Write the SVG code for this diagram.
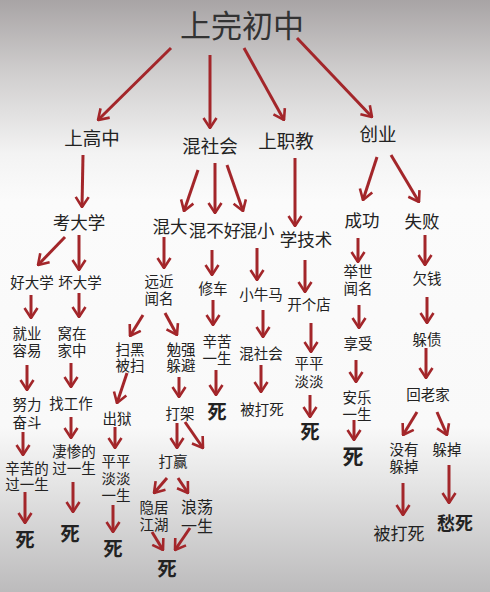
<svg xmlns="http://www.w3.org/2000/svg" width="490" height="592" viewBox="0 0 490 592">
<defs>
<linearGradient id="bg" x1="0" y1="0" x2="0" y2="1">
<stop offset="0" stop-color="#a8a4a5"/>
<stop offset="0.12" stop-color="#cfcdcd"/>
<stop offset="0.26" stop-color="#f3f3f3"/>
<stop offset="0.34" stop-color="#fbfbfb"/>
<stop offset="0.72" stop-color="#f9f9f9"/>
<stop offset="0.82" stop-color="#e4e4e4"/>
<stop offset="1" stop-color="#bcbbbc"/>
</linearGradient>
<marker id="ah" viewBox="0 0 12 16" refX="11" refY="8" markerWidth="12" markerHeight="16" markerUnits="userSpaceOnUse" orient="auto">
<path d="M1,1.5 L11,8 L1,14.5" fill="none" stroke="#a3262a" stroke-width="2.6" stroke-linejoin="miter"/>
</marker>
<style>
text{font-family:"Noto Sans CJK SC","Noto Sans CJK JP",sans-serif;fill:#222;text-anchor:middle;dominant-baseline:central}
.t{font-size:31px;fill:#333}
.l1{font-size:18.5px}
.l2{font-size:17.5px}
.s{font-size:14.5px}
.d{font-size:19.5px;font-weight:bold}
.c line{stroke:#a3262a;stroke-width:3;marker-end:url(#ah)}
</style>
</defs>
<rect width="490" height="592" fill="url(#bg)"/>
<g class="c" id="connectors">
<line x1="171" y1="48" x2="98" y2="120"/>
<line x1="210" y1="55" x2="210" y2="128"/>
<line x1="244" y1="48" x2="284" y2="120"/>
<line x1="297" y1="38" x2="372" y2="117"/>
<line x1="83" y1="155" x2="82" y2="207"/>
<line x1="198" y1="170" x2="184" y2="211"/>
<line x1="215" y1="163" x2="215" y2="213"/>
<line x1="227" y1="165" x2="243" y2="211"/>
<line x1="295" y1="158" x2="295" y2="226"/>
<line x1="377" y1="157" x2="363" y2="200"/>
<line x1="391" y1="155" x2="419" y2="202"/>
<line x1="65" y1="237" x2="38" y2="265"/>
<line x1="79" y1="235" x2="79" y2="270"/>
<line x1="164" y1="237" x2="164" y2="268"/>
<line x1="212" y1="250" x2="212" y2="275"/>
<line x1="257" y1="248" x2="257" y2="280"/>
<line x1="305" y1="260" x2="305" y2="292"/>
<line x1="358" y1="238" x2="358" y2="262"/>
<line x1="425" y1="235" x2="425" y2="265"/>
<line x1="31" y1="295" x2="31" y2="318"/>
<line x1="79" y1="293" x2="79" y2="317"/>
<line x1="143" y1="315" x2="130" y2="336"/>
<line x1="165" y1="313" x2="177" y2="335"/>
<line x1="213" y1="300" x2="213" y2="325"/>
<line x1="263" y1="310" x2="263" y2="337"/>
<line x1="311" y1="323" x2="311" y2="352"/>
<line x1="359" y1="305" x2="359" y2="328"/>
<line x1="427" y1="297" x2="427" y2="323"/>
<line x1="27" y1="365" x2="27" y2="390"/>
<line x1="71" y1="363" x2="71" y2="387"/>
<line x1="127" y1="373" x2="117" y2="403"/>
<line x1="179" y1="377" x2="179" y2="397"/>
<line x1="216" y1="370" x2="216" y2="395"/>
<line x1="261" y1="365" x2="261" y2="392"/>
<line x1="310" y1="395" x2="310" y2="417"/>
<line x1="356" y1="360" x2="356" y2="382"/>
<line x1="426" y1="348" x2="426" y2="378"/>
<line x1="23" y1="432" x2="23" y2="455"/>
<line x1="71" y1="417" x2="71" y2="438"/>
<line x1="115" y1="427" x2="115" y2="448"/>
<line x1="177" y1="423" x2="177" y2="448"/>
<line x1="185" y1="422" x2="203" y2="448"/>
<line x1="354" y1="420" x2="354" y2="440"/>
<line x1="417" y1="412" x2="403" y2="435"/>
<line x1="437" y1="412" x2="447" y2="435"/>
<line x1="25" y1="492" x2="25" y2="523"/>
<line x1="73" y1="482" x2="73" y2="512"/>
<line x1="113" y1="505" x2="113" y2="532"/>
<line x1="167" y1="478" x2="154" y2="493"/>
<line x1="178" y1="478" x2="188" y2="493"/>
<line x1="152" y1="532" x2="163" y2="550"/>
<line x1="190" y1="528" x2="175" y2="550"/>
<line x1="403" y1="483" x2="403" y2="515"/>
<line x1="449" y1="465" x2="449" y2="503"/>
</g>
<g id="n-root"><text class="t" x="242" y="23">上完初中</text></g>
<g id="n-gaozhong"><text class="l1" x="92" y="137">上高中</text></g>
<g id="n-hunshehui"><text class="l1" x="210" y="145">混社会</text></g>
<g id="n-zhijiao"><text class="l1" x="286" y="140">上职教</text></g>
<g id="n-chuangye"><text class="l1" x="378" y="133">创业</text></g>
<g id="n-kaodaxue"><text class="l2" x="79" y="221">考大学</text></g>
<g id="n-hunda"><text class="l2" x="170" y="225">混大</text></g>
<g id="n-hunbuhao"><text class="l2" x="215" y="229">混不好</text></g>
<g id="n-hunxiao"><text class="l2" x="257" y="229">混小</text></g>
<g id="n-xuejishu"><text class="l2" x="306" y="238">学技术</text></g>
<g id="n-chenggong"><text class="l2" x="362" y="219">成功</text></g>
<g id="n-shibai"><text class="l2" x="422" y="220">失败</text></g>
<g id="n-haodaxue"><text class="s" x="32" y="281">好大学</text></g>
<g id="n-huaidaxue"><text class="s" x="80" y="281">坏大学</text></g>
<g id="n-yuanjin"><text class="s" x="159" y="280">远近<tspan x="159" dy="17">闻名</tspan></text></g>
<g id="n-xiuche"><text class="s" x="213" y="287">修车</text></g>
<g id="n-xiaoniuma"><text class="s" x="261" y="293">小牛马</text></g>
<g id="n-kaigedian"><text class="s" x="309" y="303">开个店</text></g>
<g id="n-jushi"><text class="s" x="358" y="270">举世<tspan x="358" dy="17">闻名</tspan></text></g>
<g id="n-qianqian"><text class="s" x="427" y="277">欠钱</text></g>
<g id="n-jiuye"><text class="s" x="27" y="332">就业<tspan x="27" dy="17">容易</tspan></text></g>
<g id="n-wozai"><text class="s" x="72" y="332">窝在<tspan x="72" dy="17">家中</tspan></text></g>
<g id="n-saohei"><text class="s" x="130" y="348">扫黑<tspan x="130" dy="16">被扫</tspan></text></g>
<g id="n-mianqiang"><text class="s" x="181" y="348">勉强<tspan x="181" dy="16">躲避</tspan></text></g>
<g id="n-xinku1"><text class="s" x="217" y="340">辛苦<tspan x="217" dy="17">一生</tspan></text></g>
<g id="n-hunshehui2"><text class="s" x="261" y="352">混社会</text></g>
<g id="n-pingping1"><text class="s" x="309" y="362">平平<tspan x="309" dy="18">淡淡</tspan></text></g>
<g id="n-xiangshou"><text class="s" x="358" y="342">享受</text></g>
<g id="n-duozhai"><text class="s" x="427" y="338">躲债</text></g>
<g id="n-nuli"><text class="s" x="27" y="403">努力<tspan x="27" dy="18">奋斗</tspan></text></g>
<g id="n-zhaogongzuo"><text class="s" x="71" y="402">找工作</text></g>
<g id="n-chuyu"><text class="s" x="117" y="417">出狱</text></g>
<g id="n-dajia"><text class="s" x="180" y="412">打架</text></g>
<g id="n-si-xinku"><text class="d" x="217" y="410">死</text></g>
<g id="n-bedasi1"><text class="s" x="262" y="408">被打死</text></g>
<g id="n-si-pingping"><text class="d" x="310" y="430">死</text></g>
<g id="n-anle"><text class="s" x="357" y="396">安乐<tspan x="357" dy="17">一生</tspan></text></g>
<g id="n-huilaojia"><text class="s" x="428" y="393">回老家</text></g>
<g id="n-xinkude"><text class="s" x="27" y="467">辛苦的<tspan x="27" dy="16">过一生</tspan></text></g>
<g id="n-qicande"><text class="s" x="74" y="450">凄惨的<tspan x="74" dy="17">过一生</tspan></text></g>
<g id="n-pingping2"><text class="s" x="116" y="460">平平<tspan x="116" dy="17">淡淡</tspan><tspan x="116" dy="17">一生</tspan></text></g>
<g id="n-daying"><text class="s" x="173" y="460">打赢</text></g>
<g id="n-si-anle"><text class="d" x="353" y="455" style="font-size:21px">死</text></g>
<g id="n-meiyou"><text class="s" x="404" y="448">没有<tspan x="404" dy="17">躲掉</tspan></text></g>
<g id="n-duodiao"><text class="s" x="447" y="448">躲掉</text></g>
<g id="n-si-1"><text class="d" x="25" y="538">死</text></g>
<g id="n-si-2"><text class="d" x="70" y="532">死</text></g>
<g id="n-si-3"><text class="d" x="113" y="547">死</text></g>
<g id="n-yinju"><text class="s" x="154" y="506">隐居<tspan x="154" dy="17">江湖</tspan></text></g>
<g id="n-langdang"><text class="s" x="197" y="506" style="font-size:16px">浪荡<tspan x="197" dy="19">一生</tspan></text></g>
<g id="n-si-4"><text class="d" x="167" y="567">死</text></g>
<g id="n-bedasi2"><text class="s" x="399" y="532" style="font-size:17px">被打死</text></g>
<g id="n-chousi"><text class="s" x="455" y="522" style="font-size:18px;font-weight:bold">愁死</text></g>
</svg>
